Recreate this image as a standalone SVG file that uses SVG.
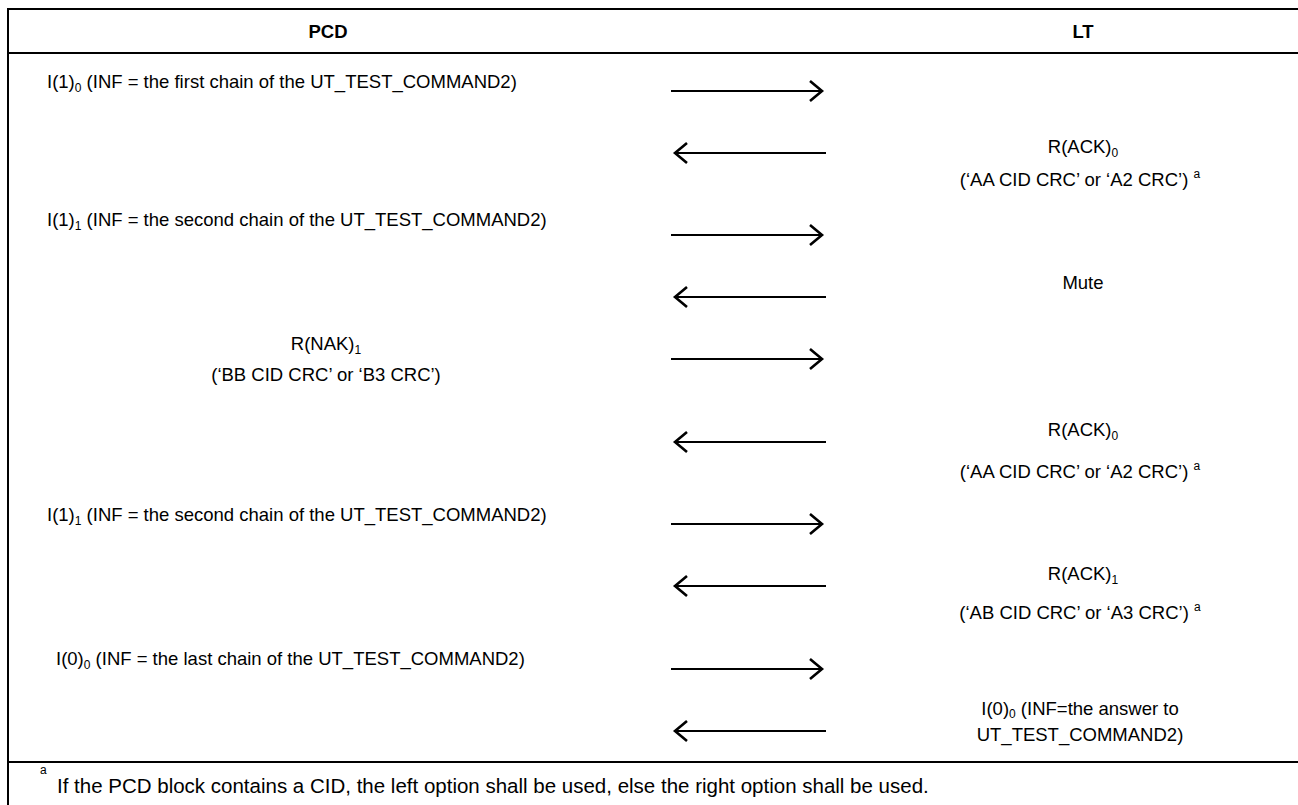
<svg xmlns="http://www.w3.org/2000/svg" width="1298" height="805" viewBox="0 0 1298 805">
<style>
text{font-family:"Liberation Sans",Arial,sans-serif;font-size:18.5px;fill:#000}
.b{font-weight:bold}
.m{text-anchor:middle}
.s{font-size:12px}
.fn{font-size:20.5px}
.frame{stroke:#000;stroke-width:2;fill:none}
.arr{stroke:#000;stroke-width:2.2;fill:none;marker-end:url(#ah)}
</style>
<defs>
<marker id="ah" markerUnits="userSpaceOnUse" markerWidth="16" markerHeight="24" viewBox="0 0 16 24" refX="13" refY="12" orient="auto"><path d="M1,2 L13,12 L1,22" fill="none" stroke="#000" stroke-width="2.6"/></marker>
</defs>
<rect x="0" y="0" width="1298" height="805" fill="#fff"/>
<g id="table">
<line class="frame" x1="8" y1="9" x2="1298" y2="9"/>
<line class="frame" x1="8" y1="53" x2="1298" y2="53"/>
<line class="frame" x1="8" y1="762" x2="1298" y2="762"/>
<line class="frame" x1="8" y1="8" x2="8" y2="805"/>
</g>
<g id="header-pcd"><text class="b m" x="328" y="38">PCD</text></g>
<g id="header-lt"><text class="b m" x="1083" y="38">LT</text></g>
<g id="msg1"><text x="47" y="88">I(1)<tspan class="s" dy="4">0</tspan><tspan dy="-4"> (INF = the first chain of the UT_TEST_COMMAND2)</tspan></text></g>
<g id="msg2"><text class="m" x="1083" y="153">R(ACK)<tspan class="s" dy="4">0</tspan></text><text class="m" x="1080" y="186">(‘AA CID CRC’ or ‘A2 CRC’) <tspan class="s" dy="-8">a</tspan></text></g>
<g id="msg3"><text x="47" y="226">I(1)<tspan class="s" dy="4">1</tspan><tspan dy="-4"> (INF = the second chain of the UT_TEST_COMMAND2)</tspan></text></g>
<g id="msg4"><text class="m" x="1083" y="289">Mute</text></g>
<g id="msg5"><text class="m" x="326" y="350">R(NAK)<tspan class="s" dy="4">1</tspan></text><text class="m" x="326" y="381">(‘BB CID CRC’ or ‘B3 CRC’)</text></g>
<g id="msg6"><text class="m" x="1083" y="436">R(ACK)<tspan class="s" dy="4">0</tspan></text><text class="m" x="1080" y="478">(‘AA CID CRC’ or ‘A2 CRC’) <tspan class="s" dy="-8">a</tspan></text></g>
<g id="msg7"><text x="47" y="521">I(1)<tspan class="s" dy="4">1</tspan><tspan dy="-4"> (INF = the second chain of the UT_TEST_COMMAND2)</tspan></text></g>
<g id="msg8"><text class="m" x="1083" y="580">R(ACK)<tspan class="s" dy="4">1</tspan></text><text class="m" x="1080" y="619">(‘AB CID CRC’ or ‘A3 CRC’) <tspan class="s" dy="-8">a</tspan></text></g>
<g id="msg9"><text x="56" y="665">I(0)<tspan class="s" dy="4">0</tspan><tspan dy="-4"> (INF = the last chain of the UT_TEST_COMMAND2)</tspan></text></g>
<g id="msg10"><text class="m" x="1080" y="715">I(0)<tspan class="s" dy="3">0</tspan><tspan dy="-3"> (INF=the answer to</tspan></text><text class="m" x="1080" y="741">UT_TEST_COMMAND2)</text></g>
<g id="footnote"><text class="s" x="40" y="774">a</text><text class="fn" x="57" y="793">If the PCD block contains a CID, the left option shall be used, else the right option shall be used.</text></g>
<g id="connectors">
<line class="arr" x1="671" y1="91" x2="822" y2="91"/>
<line class="arr" x1="826" y1="153" x2="675" y2="153"/>
<line class="arr" x1="671" y1="235" x2="822" y2="235"/>
<line class="arr" x1="826" y1="297" x2="675" y2="297"/>
<line class="arr" x1="671" y1="359" x2="822" y2="359"/>
<line class="arr" x1="826" y1="442" x2="675" y2="442"/>
<line class="arr" x1="671" y1="524" x2="822" y2="524"/>
<line class="arr" x1="826" y1="586" x2="675" y2="586"/>
<line class="arr" x1="671" y1="669" x2="822" y2="669"/>
<line class="arr" x1="826" y1="731" x2="675" y2="731"/>
</g>
</svg>
